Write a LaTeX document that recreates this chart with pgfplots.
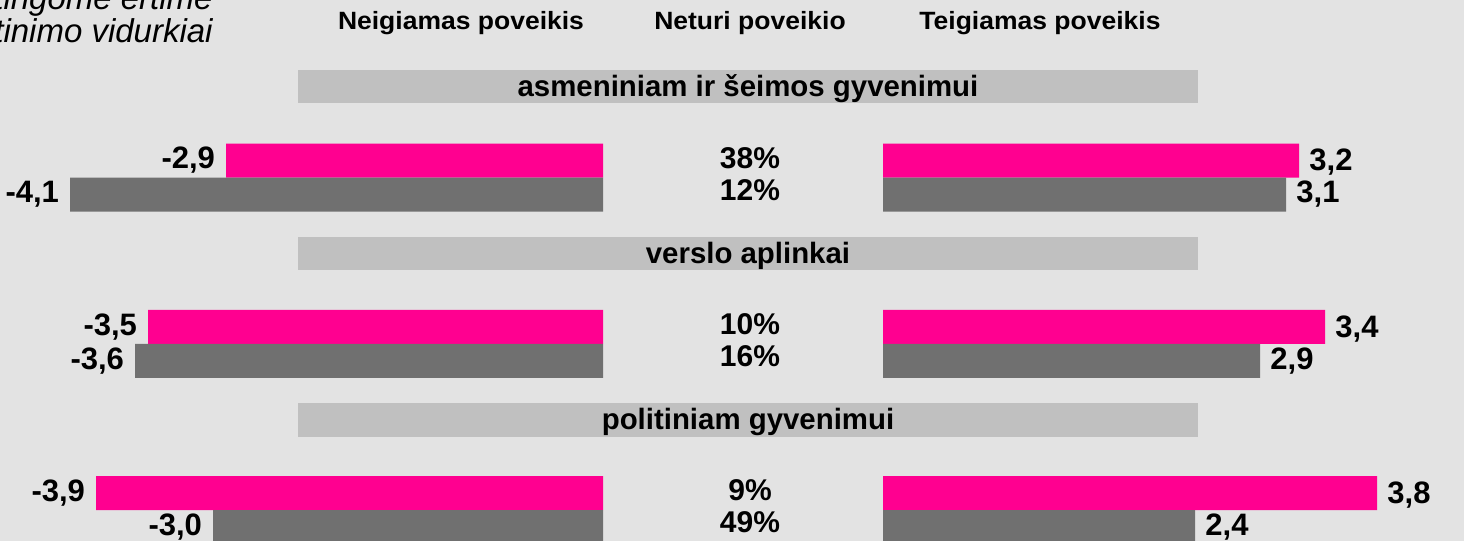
\documentclass[border=0pt]{standalone}
\usepackage{pgfplots}
\pgfplotsset{compat=1.18}
\usepackage{fontspec}
\setmainfont{Liberation Sans}

\definecolor{bg}{HTML}{E3E3E3}
\definecolor{pinkbar}{HTML}{FF0090}
\definecolor{graybar}{HTML}{707070}
\definecolor{headbar}{HTML}{C0C0C0}

\newcommand{\valfont}{\bfseries\fontsize{15.5pt}{17pt}\selectfont}

% shared look of the three panels (1 px of the reference = 0.5pt)
\pgfplotsset{
  panel/.style={
    scale only axis, hide axis, clip=false,
    height=270.5pt, anchor=north west,
    ymin=0.8135, ymax=4.0677,
  },
}

\begin{document}
\begin{tikzpicture}
\useasboundingbox (0,0) rectangle (732pt,-270.5pt);
\fill[bg] (0,0) rectangle (732pt,-270.5pt);

\begin{scope}[x=0.5pt,y=-0.5pt]
  % top-left note (cut off in the reference)
  \node[anchor=base east, inner sep=0pt, font=\itshape\fontsize{16.5pt}{18pt}\selectfont] at (213,9) {tingome ertime};
  \node[anchor=base east, inner sep=0pt, font=\itshape\fontsize{16.5pt}{18pt}\selectfont] at (213,42) {vertinimo vidurkiai};
  % column headers
  \begin{scope}[every node/.style={anchor=base, inner sep=0pt,
      font=\bfseries\fontsize{12.5pt}{14pt}\selectfont\addfontfeature{FakeStretch=1.06}}]
    \node at (461,29) {Neigiamas poveikis};
    \node at (750,29) {Neturi poveikio};
    \node at (1040,29) {Teigiamas poveikis};
  \end{scope}
  % section strips
  \fill[headbar] (298,70) rectangle (1198,103);
  \fill[headbar] (298,237) rectangle (1198,270);
  \fill[headbar] (298,403) rectangle (1198,437);
  \begin{scope}[every node/.style={anchor=base, inner sep=0pt,
      font=\bfseries\fontsize{14.7pt}{16pt}\selectfont}]
    \node at (748,96) {asmeniniam ir šeimos gyvenimui};
    \node at (748,263) {verslo aplinkai};
    \node at (748,429.5) {politiniam gyvenimui};
  \end{scope}
\end{scope}

% negative effect
\begin{axis}[panel, at={(0pt,0pt)}, width=301.5pt,
    xmin=-4.6385, xmax=0,
    nodes near coords, point meta=explicit symbolic]
  \addplot[xbar, bar width=17pt, bar shift=8.5pt, fill=pinkbar, draw=none,
    nodes near coords style={anchor=east, xshift=-2pt, yshift=8.5pt, font=\valfont}]
    coordinates {(-2.9,3) [-2,9] (-3.5,2) [-3,5] (-3.9,1) [-3,9]};
  \addplot[xbar, bar width=17pt, bar shift=-8.5pt, fill=graybar, draw=none,
    nodes near coords style={anchor=east, xshift=-2pt, yshift=-8.5pt, font=\valfont}]
    coordinates {(-4.1,3) [-4,1] (-3.6,2) [-3,6] (-3.0,1) [-3,0]};
\end{axis}

% no effect (shares)
\begin{axis}[panel, at={(301.5pt,0pt)}, width=140pt,
    xmin=0, xmax=1,
    nodes near coords, point meta=explicit symbolic]
  \addplot[draw=none, mark=none,
    nodes near coords style={anchor=base, yshift=4.75pt, font=\bfseries\fontsize{15pt}{17pt}\selectfont}]
    coordinates {(0.525,3) [38\%] (0.525,2) [10\%] (0.525,1) [9\%]};
  \addplot[draw=none, mark=none,
    nodes near coords style={anchor=base, yshift=-11.25pt, font=\bfseries\fontsize{15pt}{17pt}\selectfont}]
    coordinates {(0.525,3) [12\%] (0.525,2) [16\%] (0.525,1) [49\%]};
\end{axis}

% positive effect
\begin{axis}[panel, at={(441.5pt,0pt)}, width=290.5pt,
    xmin=0, xmax=4.4692,
    nodes near coords, point meta=explicit symbolic]
  \addplot[xbar, bar width=17pt, bar shift=8.5pt, fill=pinkbar, draw=none,
    nodes near coords style={anchor=west, xshift=1.7pt, yshift=7.5pt, font=\valfont}]
    coordinates {(3.2,3) [3,2] (3.4,2) [3,4] (3.8,1) [3,8]};
  \addplot[xbar, bar width=17pt, bar shift=-8.5pt, fill=graybar, draw=none,
    nodes near coords style={anchor=west, xshift=1.7pt, yshift=-8.5pt, font=\valfont}]
    coordinates {(3.1,3) [3,1] (2.9,2) [2,9] (2.4,1) [2,4]};
\end{axis}
\end{tikzpicture}
\end{document}
